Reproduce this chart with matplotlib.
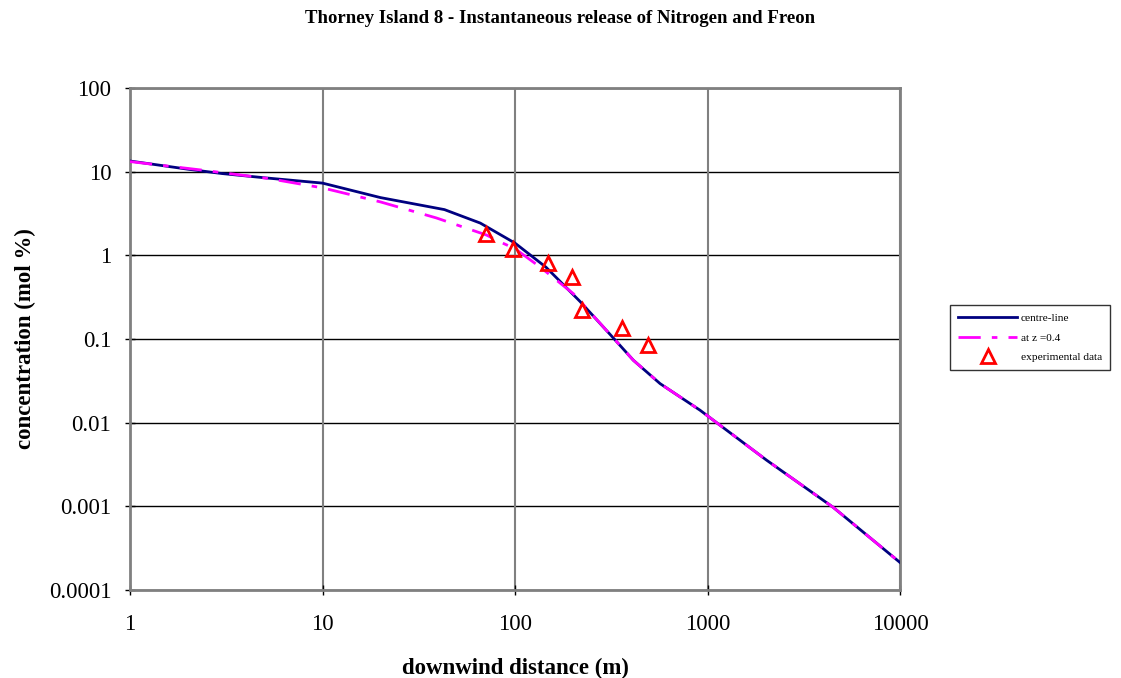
import matplotlib.pyplot as plt
import numpy as np

plt.rcParams['font.family'] = ['Liberation Serif', 'DejaVu Serif']

# centre-line prediction
x_centre = [1, 2, 3, 5, 10, 20, 43, 66, 100, 145, 218, 324, 412, 567, 914, 2028, 4505, 10400]
y_centre = [13.4, 10.7, 9.5, 8.45, 7.3, 4.9, 3.52, 2.43, 1.4, 0.72, 0.28, 0.103, 0.0557,
            0.0293, 0.0141, 0.00356, 0.00097, 0.000198]

# prediction at z = 0.4
x_z04 = [1, 2.4, 5.3, 10, 20, 39, 71, 84, 100, 135, 201, 324, 412, 567, 914, 2028, 4505, 10400]
y_z04 = [13.2, 10.4, 8.25, 6.4, 4.35, 2.8, 1.75, 1.44, 1.2, 0.725, 0.348, 0.103, 0.0557,
         0.0293, 0.0141, 0.00356, 0.00097, 0.000198]

# experimental data
x_exp = [70.4, 98, 148, 197, 222, 358, 493]
y_exp = [1.82, 1.20, 0.80, 0.55, 0.22, 0.137, 0.084]

xticks = [1, 10, 100, 1000, 10000]
yticks = [0.0001, 0.001, 0.01, 0.1, 1, 10, 100]
ylabels = ["0.0001", "0.001", "0.01", "0.1", "1", "10", "100"]

fig = plt.figure(figsize=(11.21, 6.78), dpi=100)
ax = fig.add_axes([130 / 1121, 88 / 678, 770 / 1121, 502 / 678])

ax.plot(x_centre, y_centre, color="#000080", lw=2, label="centre-line", zorder=3)
ax.plot(x_z04, y_z04, color="#FF00FF", lw=2, dashes=(8, 4, 2, 4), label="at z =0.4", zorder=4)
ax.plot(x_exp, y_exp, ls="none", marker="^", ms=10, mfc="none", mec="red", mew=2,
        label="experimental data", zorder=5)

ax.set_xscale("log")
ax.set_yscale("log")
ax.set_xlim(1, 10000)
ax.set_ylim(0.0001, 100)
ax.set_xticks(xticks)
ax.set_xticklabels([str(t) for t in xticks])
ax.set_yticks(yticks)
ax.set_yticklabels(ylabels)
ax.minorticks_off()
ax.tick_params(labelsize=16.5, length=7, width=1, color="black", direction="inout")
ax.tick_params(axis="y", pad=10)
ax.tick_params(axis="x", pad=14)

for t in yticks:
    ax.axhline(t, color="black", lw=1, zorder=1)
for t in xticks:
    ax.axvline(t, color="#808080", lw=1.5, zorder=1)

for s in ax.spines.values():
    s.set_color("#808080")
    s.set_linewidth(2)

ax.set_xlabel("downwind distance (m)", fontsize=16.5, fontweight="bold", labelpad=16)
ax.set_ylabel("concentration (mol %)", fontsize=16.5, fontweight="bold", labelpad=9)
fig.suptitle("Thorney Island 8 - Instantaneous release of Nitrogen and Freon",
             fontsize=13.5, fontweight="bold", y=0.985)

leg = fig.legend(loc="upper left", bbox_to_anchor=(950 / 1121, 1 - 305 / 678),
                 borderaxespad=0, fontsize=8.2, frameon=True, fancybox=False,
                 edgecolor="black", handlelength=5.2, handletextpad=0.3,
                 borderpad=0.7, labelspacing=0.85)
leg.get_frame().set_linewidth(1)

fig.savefig("out.png", dpi=100)
